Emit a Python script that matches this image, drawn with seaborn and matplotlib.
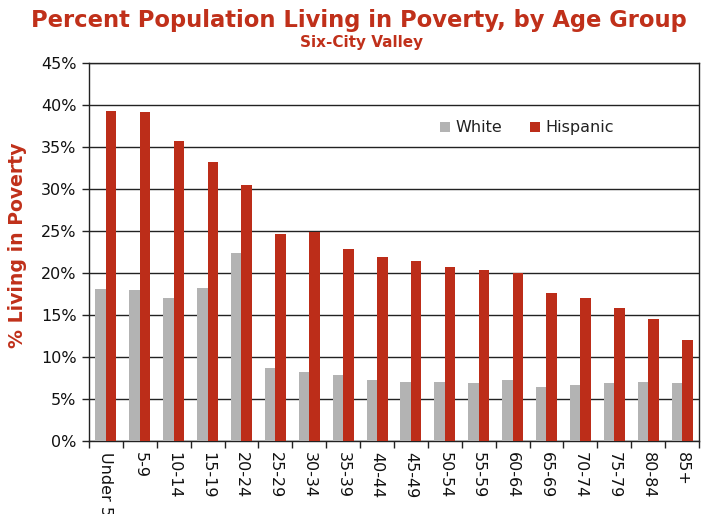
import matplotlib
matplotlib.use("Agg")
import matplotlib.pyplot as plt
import seaborn as sns
import pandas as pd
import numpy as np
from matplotlib.ticker import FixedLocator, PercentFormatter

age_groups = ["Under 5", "5-9", "10-14", "15-19", "20-24", "25-29", "30-34", "35-39",
              "40-44", "45-49", "50-54", "55-59", "60-64", "65-69", "70-74", "75-79",
              "80-84", "85+"]
white = [18.1, 18.0, 17.0, 18.2, 22.4, 8.7, 8.2, 7.9, 7.3, 7.0, 7.0, 6.9, 7.3, 6.4, 6.7, 6.9, 7.0, 6.9]
hispanic = [39.3, 39.2, 35.7, 33.2, 30.5, 24.6, 24.9, 22.9, 21.9, 21.4, 20.7, 20.4, 20.0, 17.6, 17.0, 15.8, 14.5, 12.0]
series = ["White", "Hispanic"]

df = pd.DataFrame({
    "age": age_groups * 2,
    "pct": white + hispanic,
    "group": ["White"] * len(age_groups) + ["Hispanic"] * len(age_groups),
})

sns.set_style("white")
plt.rcParams['font.family'] = ['DejaVu Sans']

red = "#BC2D19"
grey = "#B3B3B3"

fig = plt.figure(figsize=(7.03, 5.14), dpi=100)
ax = fig.add_axes([0.1266, 0.142, 0.9943 - 0.1266, 0.8774 - 0.142])

sns.barplot(data=df, x="age", y="pct", hue="group", hue_order=series,
            palette=[grey, red], width=0.62, gap=0, saturation=1,
            ax=ax, zorder=3, edgecolor="none")

ax.set_ylim(0, 45)
ax.set_xlim(-0.5, len(age_groups) - 0.5)
ax.set_yticks(np.arange(0, 46, 5))
ax.yaxis.set_major_formatter(PercentFormatter(decimals=0))
ax.grid(axis="y", color="#222222", linewidth=1.0, zorder=0)
ax.grid(axis="x", visible=False)
for s in ax.spines.values():
    s.set_color("#222222")
    s.set_linewidth(1.0)

ax.tick_params(axis="y", which="major", length=5, width=1, color="#222222",
               labelsize=11.5, labelcolor="#111111", left=True, direction="out", pad=4)
ax.tick_params(axis="x", which="major", length=0, labelsize=11.5, labelcolor="#111111", pad=8)
ax.xaxis.set_minor_locator(FixedLocator(np.arange(-0.5, len(age_groups), 1.0)))
ax.tick_params(axis="x", which="minor", length=5, width=1, color="#222222", bottom=True, direction="out")
for lbl in ax.get_xticklabels():
    lbl.set_rotation(-90)
    lbl.set_va("top")
    lbl.set_ha("center")

ax.set_xlabel("")
ax.set_ylabel("% Living in Poverty", color="#C0301A", fontsize=13.6, fontweight="bold")
ax.yaxis.set_label_coords(-0.101, 0.518)

leg = ax.legend(loc="upper left", bbox_to_anchor=(0.552, 0.886), ncol=2, frameon=False,
                fontsize=11.5, handlelength=0.65, handleheight=0.65, handletextpad=0.3,
                columnspacing=1.75)
for t in leg.get_texts():
    t.set_color("#222222")

fig.text(0.51, 0.961, "Percent Population Living in Poverty, by Age Group", ha="center", va="center",
         fontsize=16.3, fontweight="bold", color="#C0301A")
fig.text(0.515, 0.918, "Six-City Valley", ha="center", va="center",
         fontsize=11, fontweight="bold", color="#C0301A")

fig.savefig("out.png", dpi=100)
